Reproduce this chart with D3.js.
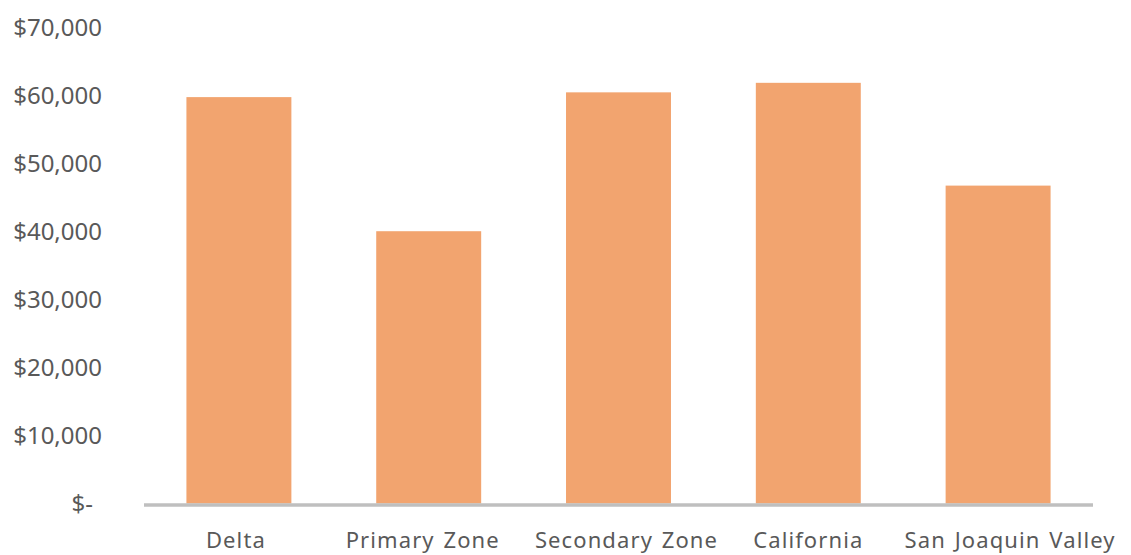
<!DOCTYPE html>
<html><head><meta charset="utf-8">
<script src="https://cdn.jsdelivr.net/npm/d3@7"></script>
<style>
html,body{margin:0;padding:0;background:#fff;}
svg text{font-family:"Noto Sans","Open Sans",sans-serif;fill:#595959;}
</style></head>
<body>
<svg id="chart" width="1131" height="555"></svg>
<script>
const categories = ["Delta", "Primary Zone", "Secondary Zone", "California", "San Joaquin Valley"];
const values = [59700, 40000, 60400, 61800, 46700];
const yTicks = [0, 10000, 20000, 30000, 40000, 50000, 60000, 70000];

const svg = d3.select("#chart");
const x = d3.scaleBand().domain(categories).range([144, 1093]).paddingInner(0.447).paddingOuter(0.2235);
const y = d3.scaleLinear().domain([0, 70000]).range([503.5, 27]);

const fmt = v => v === 0 ? "$-" : "$" + d3.format(",")(v);

// bars
svg.append("g").selectAll("rect").data(values).join("rect")
  .attr("x", (d, i) => x(categories[i]))
  .attr("width", x.bandwidth())
  .attr("y", d => y(d))
  .attr("height", d => y(0) - y(d))
  .attr("fill", "#F2A46F");

// baseline
svg.append("line")
  .attr("x1", 144).attr("x2", 1093)
  .attr("y1", y(0) + 1.5).attr("y2", y(0) + 1.5)
  .attr("stroke", "#BFBFBF").attr("stroke-width", 3.5);

// y axis labels
const yAxis = d3.axisLeft(y).tickValues(yTicks).tickFormat(fmt).tickSize(0).tickPadding(0);
const gy = svg.append("g").attr("transform", "translate(102,0)").call(yAxis);
gy.select(".domain").remove();
gy.selectAll("text")
  .attr("font-size", 24)
  .attr("dy", "0.35em")
  .attr("dx", d => d === 0 ? -9 : 0)
  .style("font-family", '"Noto Sans","Open Sans",sans-serif')
  .style("fill", "#595959");

// x axis labels
const xAxis = d3.axisBottom(x).tickSize(0).tickPadding(0);
const gx = svg.append("g").attr("transform", "translate(0,548)").call(xAxis);
gx.select(".domain").remove();
gx.selectAll("text")
  .attr("y", 0).attr("dy", 0)
  .attr("dx", (d, i) => [-3, -6, 8, 0, 12][i])
  .attr("font-size", 22)
  .style("letter-spacing", "1.1px")
  .style("word-spacing", "2px")
  .style("font-family", '"Noto Sans","Open Sans",sans-serif')
  .style("fill", "#595959");
</script>
</body></html>
